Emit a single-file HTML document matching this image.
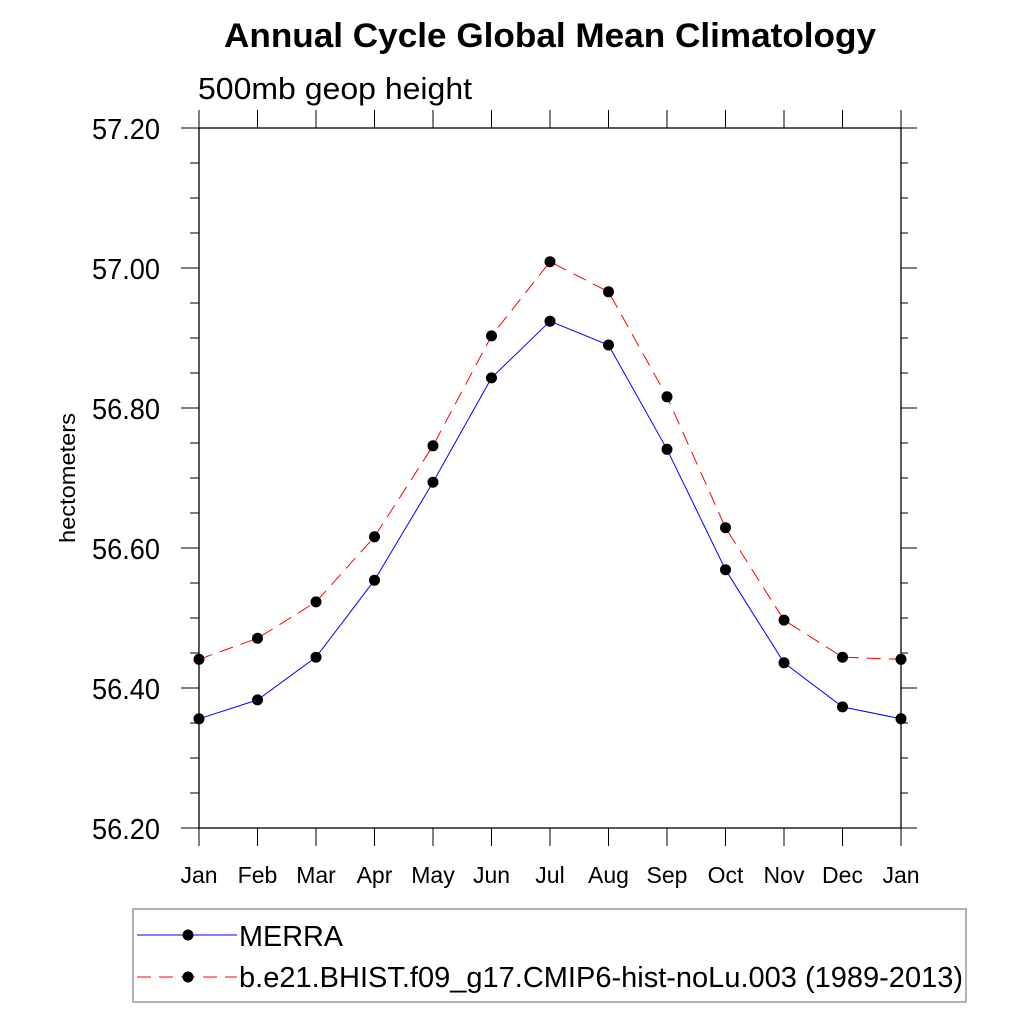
<!DOCTYPE html>
<html><head><meta charset="utf-8"><style>
body{margin:0;background:#fff}
svg text{font-family:"Liberation Sans",sans-serif}
</style></head><body>
<svg id="c" width="1024" height="1024" viewBox="0 0 1024 1024">
<text x="224" y="47" font-size="34" font-weight="bold" textLength="652" lengthAdjust="spacingAndGlyphs">Annual Cycle Global Mean Climatology</text>
<text x="198" y="99" font-size="31" textLength="274" lengthAdjust="spacingAndGlyphs">500mb geop height</text>
<text transform="translate(75,478) rotate(-90)" font-size="22" text-anchor="middle" textLength="130" lengthAdjust="spacingAndGlyphs">hectometers</text>
<g id="axes"></g><g id="series"></g>
<rect x="133" y="909" width="833" height="93" fill="none" stroke="#999" stroke-width="1.5"/>
<line x1="137" y1="935" x2="237" y2="935" stroke="#00f" stroke-width="1"/>
<circle cx="188" cy="935" r="5.5" fill="#000"/>
<text x="239" y="946" font-size="29" textLength="104" lengthAdjust="spacingAndGlyphs">MERRA</text>
<line x1="137" y1="977" x2="237" y2="977" stroke="#f00" stroke-width="1" stroke-dasharray="14,8"/>
<circle cx="188" cy="977" r="5.5" fill="#000"/>
<text x="239" y="987" font-size="29" textLength="724" lengthAdjust="spacingAndGlyphs">b.e21.BHIST.f09_g17.CMIP6-hist-noLu.003 (1989-2013)</text>
</svg>
<script>
const months=["Jan","Feb","Mar","Apr","May","Jun","Jul","Aug","Sep","Oct","Nov","Dec","Jan"];
const merra=[56.356,56.383,56.444,56.554,56.694,56.843,56.924,56.890,56.741,56.569,56.436,56.373,56.356];
const model=[56.441,56.471,56.523,56.616,56.746,56.903,57.009,56.966,56.816,56.629,56.497,56.444,56.441];
const yTicks=["56.20","56.40","56.60","56.80","57.00","57.20"];
const NS="http://www.w3.org/2000/svg";
const L=199,R=901,T=128,B=828,ymin=56.2,ymax=57.2;
const xs=i=>L+(R-L)*i/12, ys=v=>B-(v-ymin)/(ymax-ymin)*(B-T);
function mk(p,tag,a){const e=document.createElementNS(NS,tag);for(const k in a)e.setAttribute(k,a[k]);p.appendChild(e);return e;}
const ax=document.getElementById('axes'),se=document.getElementById('series');
const f=mk(ax,'rect',{x:L,y:T,width:R-L,height:B-T,fill:'none',stroke:'#000','stroke-width':1.3});


for(let k=0;k<=20;k++){const v=ymin+k*0.05,y=ys(v),maj=k%4==0,len=maj?18:9;
 const t1=mk(ax,'line',{x1:L-len,y1:y,x2:L,y2:y,stroke:'#000','stroke-width':1});
 
 
 const t2=mk(ax,'line',{x1:R,y1:y,x2:R+len-2,y2:y,stroke:'#000','stroke-width':1});
 
 }
yTicks.forEach(s=>{const t=mk(ax,'text',{x:92,y:ys(+s)+11,'font-size':29,textLength:68,lengthAdjust:'spacingAndGlyphs'});t.textContent=s;
 
 });
months.forEach((m,i)=>{const x=xs(i);
 const a=mk(ax,'line',{x1:x,y1:B,x2:x,y2:B+18,stroke:'#000','stroke-width':1});
 
 
 const b=mk(ax,'line',{x1:x,y1:T-18,x2:x,y2:T,stroke:'#000','stroke-width':1});
 
 
 const t=mk(ax,'text',{x:x,y:883,'font-size':23,'text-anchor':'middle'});t.textContent=m;
 
 });
function draw(d,col,dash,name){
 const pts=d.map((v,i)=>xs(i)+','+ys(v)).join(' ');
 const a={points:pts,fill:'none',stroke:col,'stroke-width':1};if(dash)a['stroke-dasharray']=dash;
 const pl=mk(se,'polyline',a);
 
 
 d.forEach((v,i)=>{const c=mk(se,'circle',{cx:xs(i),cy:ys(v),r:5.5,fill:'#000'});
  
  });
}
draw(merra,'#00f',null,'merra');
draw(model,'#f00','14,8','model');
</script>
</body></html>
